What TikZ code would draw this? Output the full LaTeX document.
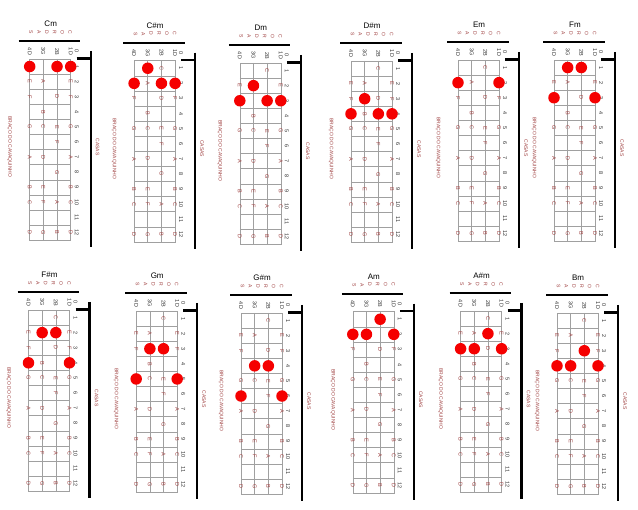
\documentclass[tikz,border=0pt]{standalone}
\usepackage{fontspec}
\setmainfont{Liberation Sans}
\definecolor{nt}{RGB}{160,65,65}
\definecolor{dotred}{RGB}{245,0,0}
\definecolor{gridc}{RGB}{160,160,160}
\tikzset{
  gridline/.style={draw=gridc, line width=0.55pt},
  notetxt/.style={font=\fontsize{5.5}{5.5}\selectfont, inner sep=0pt, rotate=-90, text=nt},
  numtxt/.style={font=\fontsize{5.5}{5.5}\selectfont, inner sep=0pt, rotate=-90, text=black!80},
  lbltxt/.style={font=\fontsize{5}{5}\selectfont, inner sep=0pt, rotate=-90, text=nt},
  titletxt/.style={font=\fontsize{8}{8}\selectfont, inner sep=0pt},
  heavy/.style={line width=2.3pt},
  dotmark/.style={circle, fill=dotred, draw=none, minimum size=11.5pt, inner sep=0pt},
}
% #1 id, #2 gx, #3 gy, #4 title, #5 dots (string/fret)
\newcommand\chordchart[5]{%
  \begin{scope}[shift={(#2,#3)}]
    \node[titletxt] (#1-title) at (21,-35) {#4};
    \foreach \k/\c in {0/S,1/A,2/D,3/R,4/O,5/C}
      \node[lbltxt] (#1-cord\k) at ({1.5+\k*7.8},-27) {\c};
    \draw[heavy] (-11,-18) -- (50.5,-18);
    \foreach \s/\c in {0/4D,1/3G,2/2B,3/1D}
      \node[numtxt] (#1-str\s) at ({\s*13.667},-7.5) {\c};
    \node[numtxt] (#1-fret0) at (47,-7.5) {0};
    \foreach \f in {1,...,12}
      \node[numtxt] (#1-fret\f) at (47,{(\f-0.5)*15.1}) {\f};
    \draw[gridline] (0,0) rectangle (41,181.2);
    \foreach \s in {1,2}
      \draw[gridline] ({\s*13.667},0) -- ({\s*13.667},181.2);
    \foreach \f in {1,...,11}
      \draw[gridline] (0,{\f*15.1}) -- (41,{\f*15.1});
    \foreach \s in {0,3}
      \foreach \f/\nn in {2/E,3/F,5/G,7/A,9/B,10/C,12/D}
        \node[notetxt] (#1-n\s-\f) at ({\s*13.667},{(\f-0.5)*15.1}) {\nn};
    \foreach \f/\nn in {2/A,4/B,5/C,7/D,9/E,10/F,12/G}
      \node[notetxt] (#1-n1-\f) at (13.667,{(\f-0.5)*15.1}) {\nn};
    \foreach \f/\nn in {1/C,3/D,5/E,6/F,8/G,10/A,12/B}
      \node[notetxt] (#1-n2-\f) at (27.333,{(\f-0.5)*15.1}) {\nn};
    \foreach \s/\f in {#5}
      \node[dotmark] (#1-d\s-\f) at ({\s*13.667},{(\f-0.5)*15.1}) {};
    \coordinate (#1-top) at (61,-8);
    \coordinate (#1-bot) at (61,188);
    \coordinate (#1-tickA) at (47,-0.5);
    \coordinate (#1-tickB) at (61,-0.5);
    \draw[heavy] (#1-top) -- (#1-bot);
    \draw[heavy] (#1-tickA) -- (#1-tickB);
    \node[lbltxt] (#1-casas) at (68,88) {CASAS};
    \node[lbltxt] (#1-braco) at (-20,88) {BRAÇO DO CAVAQUINHO};
  \end{scope}
}
\begin{document}
\begin{tikzpicture}[x=1pt,y=-1pt]
\useasboundingbox[fill=white] (0,0) rectangle (638,510);
\chordchart{cm}{29.7}{59}{Cm}{0/1,2/1,3/1}
\chordchart{csm}{134.1}{60.7}{C\#m}{1/1,0/2,2/2,3/2}
\chordchart{dm}{239.8}{63}{Dm}{1/2,0/3,2/3,3/3}
\chordchart{dsm}{351}{61}{D\#m}{1/3,0/4,2/4,3/4}
\chordchart{em}{458}{60}{Em}{0/2,3/2}
\chordchart{fm}{554}{60}{Fm}{1/1,2/1,0/3,3/3}
\chordchart{fsm}{28.5}{310}{F\#m}{1/2,2/2,0/4,3/4}
\chordchart{gm}{136.2}{311}{Gm}{1/3,2/3,0/5,3/5}
\chordchart{gsm}{241}{313}{G\#m}{1/4,2/4,0/6,3/6}
\chordchart{am}{352.8}{311.7}{Am}{2/1,0/2,1/2,3/2}
\chordchart{asm}{460.6}{311}{A\#m}{2/2,0/3,1/3,3/3}
\chordchart{bm}{557}{313}{Bm}{2/3,0/4,1/4,3/4}
\end{tikzpicture}
\end{document}
